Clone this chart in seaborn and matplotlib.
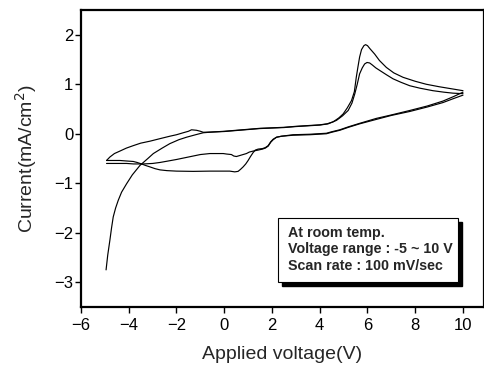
import numpy as np
import pandas as pd
import matplotlib
matplotlib.use("Agg")
import matplotlib.pyplot as plt
from matplotlib.patches import Rectangle
import seaborn as sns

# ---- data (V, mA/cm^2) ----
c1_fwd_v = [-4.95, -4.88, -4.79, -4.72, -4.65, -4.55, -4.44, -4.3, -4.09, -3.85, -3.53, -3.2, -2.97,
            -2.6, -2.28, -1.9, -1.58, -1.2, -0.88, -0.5, 0.0, 0.5, 1.0, 1.5, 2.0, 2.5, 3.0, 3.5, 4.0,
            4.3, 4.56, 4.8, 4.98, 5.15, 5.33, 5.45, 5.53, 5.6, 5.67, 5.75, 5.85, 5.92, 6.0, 6.1, 6.3,
            6.5, 6.79, 7.1, 7.49, 8.0, 8.46, 9.0, 9.5, 10.0]
c1_fwd_i = [-2.75, -2.45, -2.15, -1.9, -1.68, -1.5, -1.345, -1.18, -1.01, -0.83, -0.64, -0.5, -0.40,
            -0.29, -0.20, -0.12, -0.07, -0.02, 0.02, 0.035, 0.05, 0.07, 0.09, 0.11, 0.12, 0.13, 0.15,
            0.165, 0.18, 0.20, 0.24, 0.32, 0.40, 0.52, 0.67, 0.85, 1.14, 1.35, 1.55, 1.70, 1.78, 1.80,
            1.78, 1.72, 1.61, 1.48, 1.34, 1.23, 1.14, 1.06, 1.00, 0.95, 0.91, 0.87]

c1_rev_v = [10.0, 9.6, 9.16, 8.5, 7.77, 7.0, 6.37, 5.67, 5.2, 4.84, 4.5, 4.28, 3.58, 2.88, 2.4, 2.19,
            2.05, 1.95, 1.84, 1.72, 1.6, 1.42, 1.3, 1.21, 1.1, 1.0, 0.9, 0.79, 0.68, 0.58, 0.44, 0.23,
            -0.2, -0.6, -1.3, -2.0, -2.4, -2.69, -2.9, -3.11, -3.3, -3.46, -3.65, -3.81, -4.1, -4.37,
            -4.65, -4.93]
c1_rev_i = [0.84, 0.75, 0.66, 0.56, 0.47, 0.38, 0.31, 0.21, 0.14, 0.08, 0.04, 0.01, -0.01, -0.02,
            -0.05, -0.07, -0.11, -0.16, -0.24, -0.28, -0.30, -0.31, -0.33, -0.38, -0.46, -0.54, -0.61,
            -0.67, -0.72, -0.76, -0.77, -0.755, -0.755, -0.755, -0.76, -0.755, -0.745, -0.73, -0.705,
            -0.67, -0.64, -0.61, -0.58, -0.56, -0.55, -0.54, -0.54, -0.54]

c2_fwd_v = [-4.93, -4.79, -4.6, -4.37, -4.1, -3.81, -3.5, -3.11, -2.7, -2.28, -2.0, -1.72, -1.5, -1.37,
            -1.16, -1.0, -0.88, -0.5, 0.0, 0.5, 1.0, 1.5, 2.0, 2.5, 3.0, 3.5, 4.0, 4.35, 4.7, 4.95, 5.19,
            5.35, 5.47, 5.57, 5.67, 5.78, 5.88, 5.98, 6.09, 6.2, 6.35, 6.51, 6.8, 7.07, 7.4, 7.77, 8.2,
            8.74, 9.2, 9.58, 10.0]
c2_fwd_i = [-0.54, -0.47, -0.40, -0.35, -0.29, -0.24, -0.19, -0.15, -0.10, -0.05, -0.02, 0.02, 0.05,
            0.08, 0.07, 0.05, 0.03, 0.035, 0.045, 0.065, 0.085, 0.105, 0.115, 0.125, 0.145, 0.16, 0.175,
            0.20, 0.27, 0.36, 0.47, 0.62, 0.81, 1.0, 1.21, 1.33, 1.41, 1.44, 1.43, 1.39, 1.33, 1.28,
            1.19, 1.11, 1.04, 0.97, 0.92, 0.87, 0.84, 0.82, 0.81]

c2_rev_v = [10.0, 9.6, 9.16, 8.5, 7.77, 7.0, 6.37, 5.67, 5.2, 4.84, 4.5, 4.28, 3.58, 2.88, 2.4, 2.19,
            2.05, 1.95, 1.84, 1.72, 1.6, 1.42, 1.21, 1.05, 0.93, 0.79, 0.65, 0.51, 0.4, 0.30, 0.1, -0.04,
            -0.3, -0.6, -1.0, -1.3, -1.7, -2.0, -2.4, -2.69, -3.0, -3.39, -3.8, -4.09, -4.5, -4.93]
c2_rev_i = [0.78, 0.71, 0.63, 0.54, 0.45, 0.37, 0.29, 0.20, 0.13, 0.07, 0.03, 0.0, -0.02, -0.03, -0.05,
            -0.07, -0.12, -0.17, -0.25, -0.29, -0.31, -0.33, -0.35, -0.37, -0.40, -0.42, -0.44, -0.46,
            -0.45, -0.42, -0.41, -0.40, -0.40, -0.40, -0.42, -0.45, -0.49, -0.52, -0.555, -0.58, -0.60,
            -0.61, -0.61, -0.60, -0.60, -0.60]

x_ticks = [-6, -4, -2, 0, 2, 4, 6, 8, 10]
y_ticks = [-3, -2, -1, 0, 1, 2]
note_lines = ["At room temp.", "Voltage range : -5 ~ 10 V", "Scan rate : 100 mV/sec"]

# ---- build long table ----
frames = []
for name, v, i in [("c1f", c1_fwd_v, c1_fwd_i), ("c1r", c1_rev_v, c1_rev_i),
                   ("c2f", c2_fwd_v, c2_fwd_i), ("c2r", c2_rev_v, c2_rev_i)]:
    frames.append(pd.DataFrame({"V": v, "I": i, "seg": name}))
df = pd.concat(frames, ignore_index=True)

sns.set_style("ticks")
plt.rcParams["font.family"] = ["Liberation Sans", "DejaVu Sans"]

fig = plt.figure(figsize=(4.85, 3.65), dpi=100)
ax = fig.add_axes([81 / 485, (365 - 307) / 365, 403 / 485, 297 / 365])

sns.lineplot(data=df, x="V", y="I", units="seg", estimator=None, sort=False,
             color="black", linewidth=0.85, ax=ax, legend=False)

ax.set_xlim(-6, 10.88)
ax.set_ylim(-3.5, 2.5)
ax.set_xticks(x_ticks)
ax.set_yticks(y_ticks)
ax.tick_params(axis="both", direction="out", length=4, width=1.0, labelsize=12,
               colors="black")
ax.tick_params(axis="x", pad=4)
ax.tick_params(axis="y", pad=1.5)
for s in ax.spines.values():
    s.set_visible(True)
    s.set_linewidth(1.6)
    s.set_color("black")

ax.set_xlabel("Applied voltage(V)", fontsize=14, labelpad=9)
ax.set_ylabel("Current(mA/cm$^2$)", fontsize=14, labelpad=11)

# annotation box with drop shadow
bx0, by0, bx1, by1 = 0.489, 0.084, 0.935, 0.300
dx, dy = 0.011, 0.0145
ax.add_patch(Rectangle((bx0 + dx, by0 - dy), bx1 - bx0, by1 - by0, transform=ax.transAxes,
                       facecolor="black", edgecolor="black", zorder=4))
ax.add_patch(Rectangle((bx0, by0), bx1 - bx0, by1 - by0, transform=ax.transAxes,
                       facecolor="white", edgecolor="black", linewidth=0.8, zorder=5))
for k, line in enumerate(note_lines):
    ax.text(0.514, 0.236 - k * 0.0555, line, transform=ax.transAxes, fontsize=10.3,
            fontweight="bold", ha="left", va="baseline", zorder=6)

fig.savefig("out.png", dpi=100)
